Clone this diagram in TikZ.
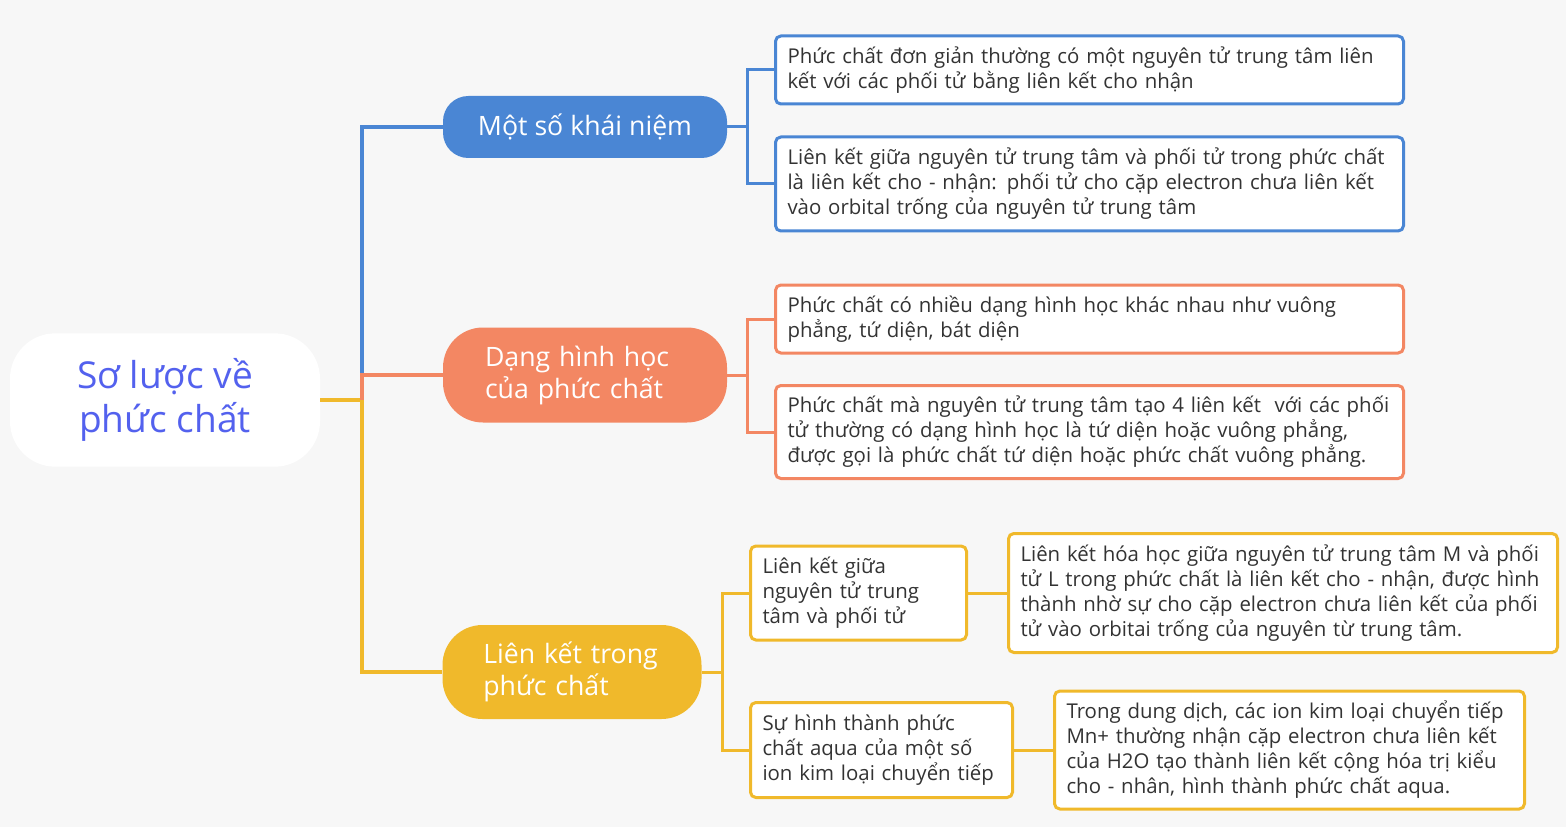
\documentclass[tikz,border=0pt]{standalone}
\usepackage{fontspec}
\setmainfont{Open Sans}
\usetikzlibrary{positioning}

\definecolor{bgc}{HTML}{F7F7F7}
\definecolor{rootblue}{HTML}{5361EE}
\definecolor{bluec}{HTML}{4A86D4}
\definecolor{orangec}{HTML}{F38763}
\definecolor{yellowc}{HTML}{F0B92B}
\definecolor{textgray}{HTML}{333333}

\begin{document}
\begin{tikzpicture}[
  x=0.75pt, y=-0.75pt,
  root/.style={
    rectangle,
    rounded corners=34pt,
    fill=white,
    text=rootblue,
    minimum width=232.5pt,
    minimum height=100pt,
    font=\fontsize{27.8}{32.5}\selectfont,
    align=center
  },
  topic/.style={
    rectangle,
    text=white,
    font=\fontsize{20}{24}\selectfont,
    align=left,
    inner ysep=0pt
  },
  leaf/.style={
    rectangle,
    draw,
    line width=2.25pt,
    rounded corners=4pt,
    fill=white,
    text=textgray,
    font=\fontsize{15.3}{18.75}\selectfont,
    align=left,
    anchor=west,
    inner xsep=9pt,
    inner ysep=0pt
  },
  link/.style={line width=2.6pt},
  sublink/.style={line width=2.25pt}]

  \path[use as bounding box, fill=bgc] (0,0) rectangle (1566,827);

  % root
  \node[root] (root) at (165,400) {Sơ lược về\\phức chất};

  % main topics
  \node[topic, fill=bluec, rounded corners=19pt, minimum width=213pt, minimum height=46.5pt,
    align=center] (concept) at (585,127) {Một số khái niệm};
  \node[topic, fill=orangec, rounded corners=30pt, minimum width=213pt, minimum height=71.25pt,
    text width=150pt, inner xsep=31.5pt] (shape) at (585,375) {Dạng hình học\\của phức chất};
  \node[topic, fill=yellowc, rounded corners=30pt, minimum width=194.25pt, minimum height=70.5pt,
    text width=133pt, inner xsep=30.6pt] (bond) at (572,672) {Liên kết trong\\phức chất};

  % blue leaves
  \node[leaf, draw=bluec, text width=453pt, minimum height=51pt] (simple) at (774,70)
    {Phức chất đơn giản thường có một nguyên tử trung tâm liên\\kết với các phối tử bằng liên kết cho nhận};
  \node[leaf, draw=bluec, text width=453pt, minimum height=70.5pt] (dative) at (774,184)
    {Liên kết giữa nguyên tử trung tâm và phối tử trong phức chất\\là liên kết cho - nhận: phối tử cho cặp electron chưa liên kết\\vào orbital trống của nguyên tử trung tâm};

  % orange leaves
  \node[leaf, draw=orangec, text width=453pt, minimum height=51pt] (geom) at (774,319)
    {Phức chất có nhiều dạng hình học khác nhau như vuông\\phẳng, tứ diện, bát diện};
  \node[leaf, draw=orangec, text width=453pt, minimum height=69.75pt] (four) at (774,432)
    {Phức chất mà nguyên tử trung tâm tạo 4 liên kết \ với các phối\\tử thường có dạng hình học là tứ diện hoặc vuông phẳng,\\được gọi là phức chất tứ diện hoặc phức chất vuông phẳng.};

  % yellow leaves
  \node[leaf, draw=yellowc, text width=144pt, minimum height=70.5pt] (between) at (749,593)
    {Liên kết giữa\\nguyên tử trung\\tâm và phối tử};
  \node[leaf, draw=yellowc, text width=393.75pt, minimum height=89.25pt] (between2) at (1007,593)
    {Liên kết hóa học giữa nguyên tử trung tâm M và phối\\tử L trong phức chất là liên kết cho - nhận, được hình\\thành nhờ sự cho cặp electron chưa liên kết của phối\\tử vào orbitai trống của nguyên từ trung tâm.};
  \node[leaf, draw=yellowc, text width=178.5pt, minimum height=71.25pt] (aqua) at (749,750)
    {Sự hình thành phức\\chất aqua của một số\\ion kim loại chuyển tiếp};
  \node[leaf, draw=yellowc, text width=334.5pt, minimum height=88.5pt] (aqua2) at (1053,750)
    {Trong dung dịch, các ion kim loại chuyển tiếp\\Mn+ thường nhận cặp electron chưa liên kết\\của H2O tạo thành liên kết cộng hóa trị kiểu\\cho - nhân, hình thành phức chất aqua.};

  % trunk
  \coordinate (hub) at (362,400);
  \coordinate (hubb) at (362,375);
  \draw[link, yellowc] (root.east) -- (hub);
  \draw[link, bluec] (hubb) |- (concept.west);
  \draw[link, orangec] (hub) -- (hubb) -- (shape.west);
  \draw[link, yellowc] (hub) |- (bond.west);

  % branches
  \coordinate (cb) at (747,127);
  \coordinate (co) at (747,375);
  \coordinate (cy) at (722,672);
  \draw[sublink, bluec] (concept.east) -- (cb);
  \draw[sublink, bluec] (simple.west) -| (cb) |- (dative.west);
  \draw[sublink, orangec] (shape.east) -- (co);
  \draw[sublink, orangec] (geom.west) -| (co) |- (four.west);
  \draw[sublink, yellowc] (bond.east) -- (cy);
  \draw[sublink, yellowc] (between.west) -| (cy) |- (aqua.west);
  \draw[sublink, yellowc] (between.east) -- (between2.west);
  \draw[sublink, yellowc] (aqua.east) -- (aqua2.west);
\end{tikzpicture}
\end{document}
